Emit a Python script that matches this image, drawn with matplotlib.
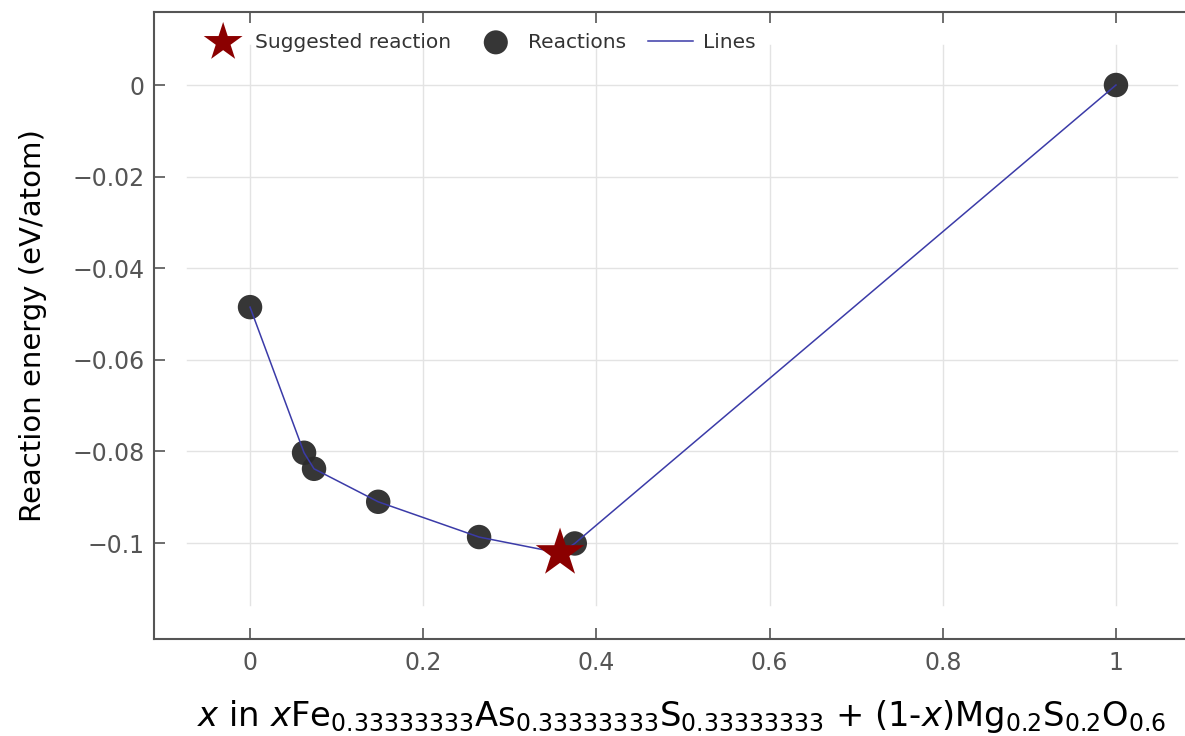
import matplotlib
matplotlib.use('Agg')
import matplotlib.pyplot as plt
from matplotlib.ticker import FuncFormatter

# reaction points
x_react = [0.0, 0.0624, 0.0739, 0.148, 0.2645, 0.375, 1.0]
e_react = [-0.0485, -0.0803, -0.0838, -0.0910, -0.0987, -0.1001, 0.0]

# suggested reaction
x_best = [0.358]
e_best = [-0.1022]

x_ticks = [0, 0.2, 0.4, 0.6, 0.8, 1]
y_ticks = [0, -0.02, -0.04, -0.06, -0.08, -0.1]

plt.rcParams['font.family'] = ['DejaVu Sans']
plt.rcParams['mathtext.fontset'] = 'dejavusans'

fig = plt.figure(figsize=(11.85, 7.36), dpi=100)
ax = fig.add_axes([154/1185, 1-639/736, 1031/1185, 627/736])

ax.set_xlim(-0.1109, 1.0797)
ax.set_ylim(-0.12096, 0.01594)

# grid lines that stop short of the frame
for v in x_ticks:
    ax.axvline(v, ymin=0.054, ymax=0.947, color='#e3e3e3', lw=1, zorder=0)
for v in y_ticks:
    ax.axhline(v, xmin=0.032, xmax=0.992, color='#e3e3e3', lw=1, zorder=0)

# line through all points sorted by x
pts = sorted(zip(x_react + x_best, e_react + e_best))
lx = [p[0] for p in pts]
ly = [p[1] for p in pts]

ax.scatter(x_react, e_react, s=310, color='#2b2b2b', alpha=0.95, zorder=2, label='Reactions', edgecolors='none')
ax.plot(lx, ly, color='#3b3ba8', lw=1.1, zorder=3, label='Lines')
ax.scatter(x_best, e_best, marker='*', s=1350, color='#8b0000', zorder=4, label='Suggested reaction', edgecolors='none')

ax.set_xticks(x_ticks)
ax.set_yticks(y_ticks)
fmt = FuncFormatter(lambda v, p: ('%g' % v).replace('-', '\u2212'))
ax.xaxis.set_major_formatter(fmt)
ax.yaxis.set_major_formatter(fmt)
ax.tick_params(axis='both', direction='in', length=8, width=1.2, color='#555555',
               labelsize=17, labelcolor='#555555', top=True, pad=9)
ax.tick_params(axis='y', pad=7)

for s in ['left', 'top', 'bottom']:
    ax.spines[s].set_color('#555555')
    ax.spines[s].set_linewidth(1.5)
ax.spines['right'].set_visible(False)

ax.set_ylabel('Reaction energy (eV/atom)', fontsize=21, color='black', labelpad=18)
ax.set_xlabel(r'$x$ in $x$Fe$_{0.33333333}$As$_{0.33333333}$S$_{0.33333333}$ + (1-$x$)Mg$_{0.2}$S$_{0.2}$O$_{0.6}$',
              fontsize=24.3, color='black')
ax.xaxis.set_label_coords(0.512, -0.094)

h, l = ax.get_legend_handles_labels()
order = [2, 0, 1]
leg = ax.legend([h[i] for i in order], [l[i] for i in order], loc='upper left',
                bbox_to_anchor=(0.028, 0.996), ncol=3, frameon=False, fontsize=14.5,
                markerscale=0.8, handletextpad=0.5, columnspacing=1.1, handlelength=2.2)
leg.legend_handles[1].set_sizes([300])
for t in leg.get_texts():
    t.set_color('#333333')

fig.savefig('out.png', dpi=100)
